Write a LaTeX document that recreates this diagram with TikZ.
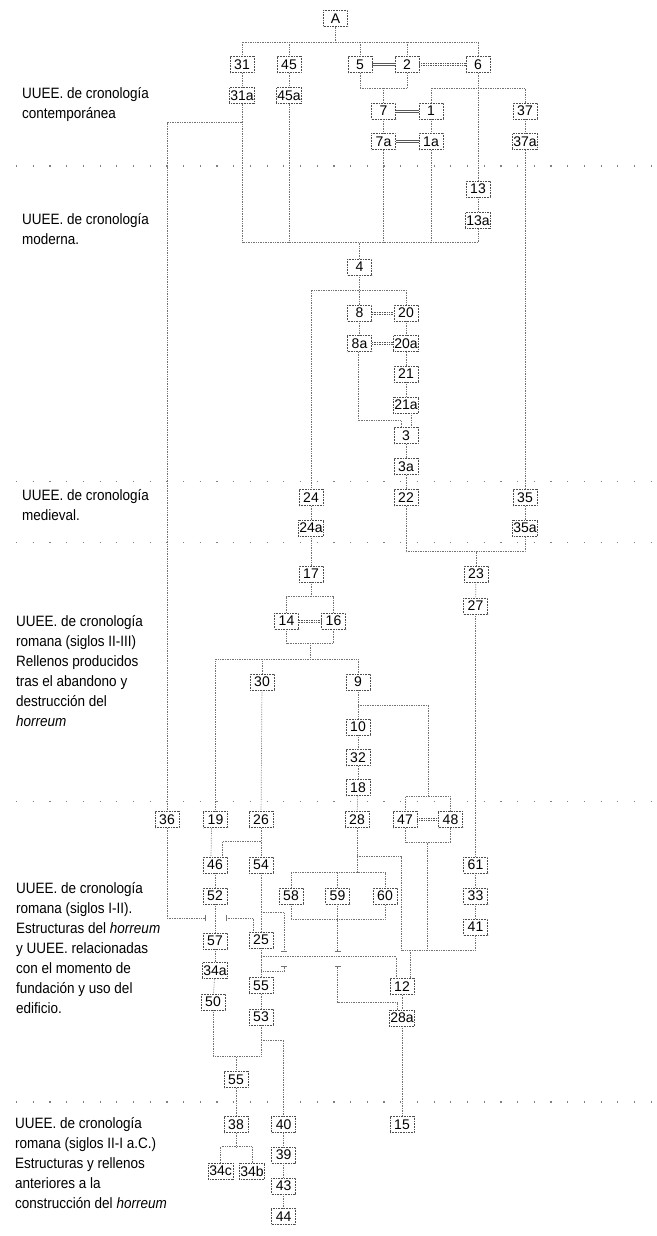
\documentclass[tikz,border=0pt]{standalone}
\usepackage{fontspec}
\setmainfont{Liberation Sans}
\newfontfamily\notefont[FakeStretch=0.9]{Liberation Sans}
\usetikzlibrary{calc}

\tikzset{
  ue/.style={draw=black!70, densely dotted, line width=0.6pt, fill=white,
    minimum width=24pt, minimum height=16pt, inner sep=1pt,
    font=\fontsize{14}{14}\selectfont},
  rel/.style={draw=black!55, densely dotted, line width=0.7pt},
  eq/.style={draw=black!65, line width=0.7pt},
  eqd/.style={eq, densely dotted},
  tick/.style={draw=black!55, line width=0.7pt},
  era/.style={draw=black!50, line width=1.2pt, dash pattern=on 1.2pt off 15.5pt},
  note/.style={anchor=north west, align=left, inner sep=0pt,
    font=\notefont\fontsize{15}{20}\selectfont}
}
% two parallel strokes between units of the same time
\newcommand{\eqlink}[3][eq]{%
  \draw[#1] ([yshift=1.1pt]#2.east) -- ([yshift=1.1pt]#3.west);
  \draw[#1] ([yshift=-1.1pt]#2.east) -- ([yshift=-1.1pt]#3.west);}

\begin{document}
\begin{tikzpicture}[x=1pt,y=-1pt]
\useasboundingbox (0,0) rectangle (656,1236);

% periods
\foreach \y in {166,481.7,542.7,801.7,1102} \draw[era] (16,\y) -- (656,\y);

\node[note] (era1) at (22,87) {UUEE. de cronología\\contemporánea};
\node[note] (era2) at (22,213) {UUEE. de cronología\\moderna.};
\node[note] (era3) at (22,489) {UUEE. de cronología\\medieval.};
\node[note] (era4) at (16,615) {UUEE. de cronología\\romana (siglos II-III)\\Rellenos producidos\\tras el abandono y\\destrucción del\\\textit{horreum}};
\node[note] (era5) at (16,882) {UUEE. de cronología\\romana (siglos I-II).\\Estructuras del \textit{horreum}\\ y UUEE. relacionadas\\con el momento de\\fundación y uso del\\edificio.};
\node[note] (era6) at (15,1117) {UUEE. de cronología\\romana (siglos II-I a.C.)\\Estructuras y rellenos\\anteriores a la\\construcción del \textit{horreum}};

% units
\node[ue] (A) at (335.5,18.5) {A};
\node[ue] (u31) at (242,64.7) {31};
\node[ue] (u45) at (289,64.7) {45};
\node[ue] (u5) at (360,64.7) {5};
\node[ue] (u2) at (407,64.7) {2};
\node[ue] (u6) at (478,64.7) {6};
\node[ue] (u31a) at (242,95.5) {31a};
\node[ue] (u45a) at (289,95.5) {45a};
\node[ue] (u7) at (383.5,111) {7};
\node[ue] (u1) at (431,111) {1};
\node[ue] (u37) at (525,111) {37};
\node[ue] (u7a) at (383.5,141.5) {7a};
\node[ue] (u1a) at (431,141.5) {1a};
\node[ue] (u37a) at (525,141.5) {37a};
\node[ue] (u13) at (478,189) {13};
\node[ue] (u13a) at (478,220.5) {13a};
\node[ue] (u4) at (359.5,267) {4};
\node[ue] (u8) at (359.5,313) {8};
\node[ue] (u20) at (406,313) {20};
\node[ue] (u8a) at (359.5,343.5) {8a};
\node[ue] (u20a) at (406,343.5) {20a};
\node[ue] (u21) at (406,374) {21};
\node[ue] (u21a) at (406,405) {21a};
\node[ue] (u3) at (406,435.5) {3};
\node[ue] (u3a) at (406,466.5) {3a};
\node[ue] (u24) at (311,497.5) {24};
\node[ue] (u22) at (406,497.5) {22};
\node[ue] (u35) at (525,497.5) {35};
\node[ue] (u24a) at (311,528) {24a};
\node[ue] (u35a) at (525,528) {35a};
\node[ue] (u17) at (311,574) {17};
\node[ue] (u23) at (476,574) {23};
\node[ue] (u27) at (475.5,606) {27};
\node[ue] (u14) at (286.5,621) {14};
\node[ue] (u16) at (333.5,621) {16};
\node[ue] (u30) at (262,682) {30};
\node[ue] (u9) at (358,682) {9};
\node[ue] (u10) at (358,727) {10};
\node[ue] (u32) at (358,757.5) {32};
\node[ue] (u18) at (358,787.5) {18};
\node[ue] (u36) at (167,819.7) {36};
\node[ue] (u19) at (215.5,819.7) {19};
\node[ue] (u26) at (261,819.7) {26};
\node[ue] (u28) at (357,819.7) {28};
\node[ue] (u47) at (405,819.7) {47};
\node[ue] (u48) at (450.5,819.7) {48};
\node[ue] (u46) at (215,865) {46};
\node[ue] (u54) at (261,865) {54};
\node[ue] (u61) at (475.5,865) {61};
\node[ue] (u52) at (215,896) {52};
\node[ue] (u58) at (291,896) {58};
\node[ue] (u59) at (337.5,896) {59};
\node[ue] (u60) at (385,896) {60};
\node[ue] (u33) at (475.5,896) {33};
\node[ue] (u41) at (475.5,927) {41};
\node[ue] (u57) at (215,941) {57};
\node[ue] (u25) at (261,940) {25};
\node[ue] (u34a) at (215,970.5) {34a};
\node[ue] (u55a) at (261,985.7) {55};
\node[ue] (u12) at (402,986.5) {12};
\node[ue] (u50) at (213,1002) {50};
\node[ue] (u53) at (261,1017) {53};
\node[ue] (u28a) at (402,1018) {28a};
\node[ue] (u55b) at (236,1079.5) {55};
\node[ue] (u38) at (236,1124.7) {38};
\node[ue] (u40) at (283.7,1124.7) {40};
\node[ue] (u15) at (402,1124.7) {15};
\node[ue] (u39) at (283.7,1155) {39};
\node[ue] (u34c) at (220.7,1171) {34c};
\node[ue] (u34b) at (252,1171) {34b};
\node[ue] (u43) at (283.7,1186) {43};
\node[ue] (u44) at (283.7,1216.5) {44};

% helper points
\coordinate (c3) at ([xshift=-5pt]u3.north);
\coordinate (b14) at (310,643.3);
\coordinate (t47) at (428.3,796.7);
\coordinate (b47) at (427.3,842.7);
\coordinate (g36) at (205,918.3);
\coordinate (h36) at (226,918.3);
\coordinate (k54) at (284.3,951.7);
\coordinate (l54) at (284.3,966.7);
\coordinate (k59) at (337.5,951.7);
\coordinate (l59) at (337.5,966.7);
\coordinate (c12) at (401.7,950);
\coordinate (w12) at ([xshift=-6pt]u12.north);
\coordinate (e12) at ([xshift=8.5pt]u12.north);
\coordinate (n28a) at ([xshift=-5pt]u28a.north);

% contemporanea
\draw[rel] (u31) |- (u6 |- 0,42) -- (u6);
\foreach \n in {A,u45,u5,u2} \draw[rel] (\n) -- (\n |- 0,42);
\eqlink{u5}{u2}
\eqlink[eqd]{u2}{u6}
\draw[rel] (u31) -- (u31a);
\draw[rel] (u45) -- (u45a);
\draw[rel] (u5) |- (u2 |- 0,88.3) -- (u2);
\draw[rel] (u7) -- (u7 |- 0,88.3);
\draw[rel] (u1) |- (u37 |- 0,88.3) -- (u37);
\draw[rel] (u6) -- (u13);
\eqlink{u7}{u1}
\eqlink{u7a}{u1a}
\draw[rel] (u7) -- (u7a);
\draw[rel] (u1) -- (u1a);
\draw[rel] (u37) -- (u37a);
\draw[rel] (u37a) -- (u35);
\draw[rel] (u35) -- (u35a);
\draw[rel] (u13) -- (u13a);
\draw[rel] (u31a) |- (u13a |- 0,242.7) -- (u13a);
\foreach \n in {u45a,u7a,u1a,u4} \draw[rel] (\n) -- (\n |- 0,242.7);
\draw[rel] (u31a.south |- 0,122.7) -| (u36);

% moderna
\draw[rel] (u24) |- (u20 |- 0,290) -- (u20);
\draw[rel] (u4) -- (u8);
\eqlink[eqd]{u8}{u20}
\eqlink[eqd]{u8a}{u20a}
\draw[rel] (u8) -- (u8a);
\draw[rel] (u20) -- (u20a);
\draw[rel] (u20a) -- (u21);
\draw[rel] (u21) -- (u21a);
\draw[rel] ([xshift=-1.5pt]u8a.south) |- (c3 |- 0,420.7) -- (c3);
\draw[rel] ([xshift=5pt]u21a.south) -- ([xshift=5pt]u3.north);
\draw[rel] (u3) -- (u3a);
\draw[rel] (u3a) -- (u22);

% medieval
\draw[rel] (u24) -- (u24a);
\draw[rel] (u24a) -- (u17);
\draw[rel] (u22) |- (u35a |- 0,551.7) -- (u35a);
\draw[rel] (u23) -- (u23 |- 0,551.7);
\draw[rel] (u23) -- (u27);
\draw[rel] (u27) -- (u61);

% romana II-III
\draw[rel] (u14) |- (u16 |- 0,596.7) -- (u16);
\draw[rel] (u17) -- (u17 |- 0,596.7);
\eqlink[eqd]{u14}{u16}
\draw[rel] (u14) |- (u16 |- 0,643.3) -- (u16);
\draw[rel] (b14) -- (b14 |- 0,659.3);
\draw[rel] (u19) |- (u9 |- 0,659.3) -- (u9);
\draw[rel] (u30) -- (u30 |- 0,659.3);
\draw[rel] (u30) -- (u26);
\draw[rel] (u9) -- (u10);
\draw[rel] (u10) -- (u32);
\draw[rel] (u32) -- (u18);
\draw[rel] (u18) -- (u28);
\draw[rel] (u9.south |- 0,705) -| (t47);
\draw[rel] (u47) |- (u48 |- 0,796.7) -- (u48);
\eqlink[eqd]{u47}{u48}
\draw[rel] (u47) |- (u48 |- 0,842.7) -- (u48);
\draw[rel] (b47) -- (b47 |- 0,950);

% romana I-II
\draw[rel] ([xshift=-4pt]u19.south) -- ([xshift=-4pt]u46.north);
\draw[rel] (u26) -- (u54);
\draw[rel] (u26.south |- 0,841.7) -| ([xshift=7pt]u46.north);
\draw[rel] (u46) -- (u52);
\draw[rel] (u52) -- (u57);
\draw[rel] (u57) -- (u34a);
\draw[rel] (u34a) -- (u50);
\draw[rel] (u36) |- (g36);
\draw[tick] ([yshift=-3pt]g36) -- ([yshift=3pt]g36);
\draw[tick] ([yshift=-3pt]h36) -- ([yshift=3pt]h36);
\draw[rel] (h36) -| ([xshift=-8pt]u25.north);
\draw[rel] (u54) -- (u25);
\draw[rel] (u25) -- (u55a);
\draw[rel] (u54.south |- 0,912.7) -| (k54);
\draw[rel] (l54) |- (u55a.north |- 0,971.7);
\draw[rel] (u28) -- (u28 |- 0,872.7);
\draw[rel] (u58) |- (u60 |- 0,872.7) -- (u60);
\draw[rel] (u59) -- (u59 |- 0,872.7);
\draw[rel] (u28.south |- 0,856.7) -| (c12);
\draw[rel] (u58) |- (u60 |- 0,919.3) -- (u60);
\draw[rel] (u59) -- (k59);
\draw[rel] (l59) |- (n28a |- 0,1002.7) -- (n28a);
\foreach \p in {k54,l54,k59,l59} \draw[tick] ([xshift=-3pt]\p) -- ([xshift=3pt]\p);
\draw[rel] (u25.south |- 0,956.7) -| (w12);
\draw[rel] (c12) -| (u41);
\draw[rel] (e12 |- 0,950) -- (e12);
\draw[rel] (u61) -- (u33);
\draw[rel] (u33) -- (u41);
\draw[rel] (u12) -- (u28a);
\draw[rel] (u28a) -- (u15);
\draw[rel] (u55a) -- (u53);
\draw[rel] (u50) |- (u53 |- 0,1056) -- (u53);
\draw[rel] (u55b) -- (u55b |- 0,1056);
\draw[rel] (u53.south |- 0,1040) -| (u40);

% romana II-I a.C.
\draw[rel] (u55b) -- (u38);
\draw[rel] (u34c) |- (u34b |- 0,1146.7) -- (u34b);
\draw[rel] (u38) -- (u38 |- 0,1146.7);
\draw[rel] (u40) -- (u39);
\draw[rel] (u39) -- (u43);
\draw[rel] (u43) -- (u44);
\end{tikzpicture}
\end{document}
